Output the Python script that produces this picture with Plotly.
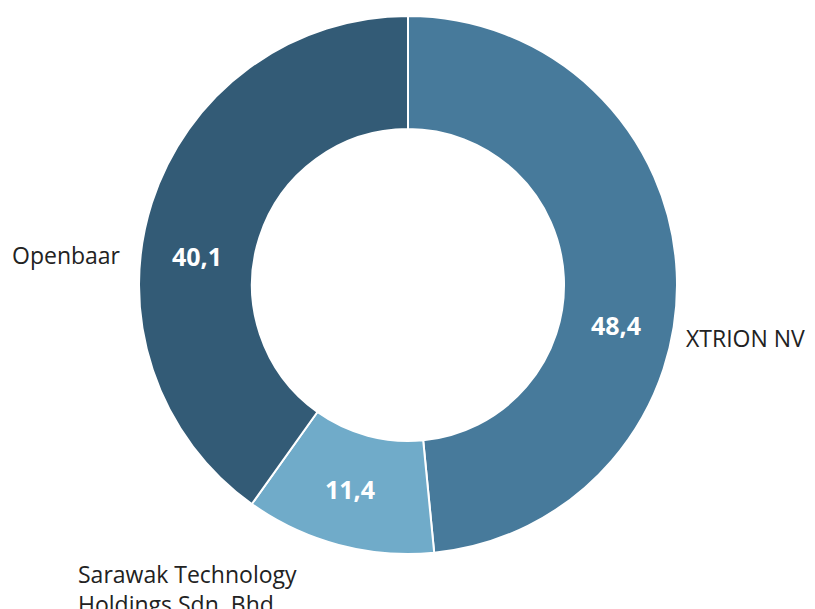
import plotly.graph_objects as go

labels = ["XTRION NV", "Sarawak Technology Holdings Sdn. Bhd.", "Openbaar"]
label_lines = ["XTRION NV", "Sarawak Technology<br>Holdings Sdn. Bhd.", "Openbaar"]
values = [48.4, 11.4, 40.1]
colors = ["#477a9b", "#70abc9", "#335b76"]

W, H = 815, 609
OX, OY = 8, 8  # page body margin


def px(x):
    return (x - OX) / W


def py(y):
    return 1 - (y - OY) / H


def fmt(v):
    return f"{v:.1f}".replace(".", ",")


fig = go.Figure()
fig.add_trace(go.Pie(
    labels=labels,
    values=values,
    sort=False,
    direction="clockwise",
    rotation=0,
    hole=0.58,
    marker=dict(colors=colors, line=dict(color="white", width=2)),
    textinfo="none",
    domain=dict(x=[px(139), px(677)], y=[py(554), py(16)]),
    showlegend=False,
    hoverinfo="label+value",
))

# value labels inside the ring (layout positions only)
value_pos = [(616, 325), (350, 489), (197, 256)]
val_font = dict(family="Open Sans", size=25, color="white", weight="bold")
for v, (x, y) in zip(values, value_pos):
    fig.add_annotation(text=fmt(v), x=px(x), y=py(y), xref="paper", yref="paper",
                       xanchor="center", yanchor="middle", showarrow=False, font=val_font)

# category labels outside the ring
lab_font = dict(family="Open Sans", size=23, color="#222222")
lab_pos = [(684, 338, "middle"), (76, 556, "top"), (10, 255, "middle")]
for t, (x, y, ya) in zip(label_lines, lab_pos):
    fig.add_annotation(text=t, x=px(x), y=py(y), xref="paper", yref="paper",
                       xanchor="left", yanchor=ya, align="left",
                       showarrow=False, font=lab_font)

fig.update_layout(
    width=W, height=H,
    margin=dict(l=0, r=0, t=0, b=0),
    paper_bgcolor="white",
    plot_bgcolor="white",
    separators=",.",
)

fig.write_html("out.html")
